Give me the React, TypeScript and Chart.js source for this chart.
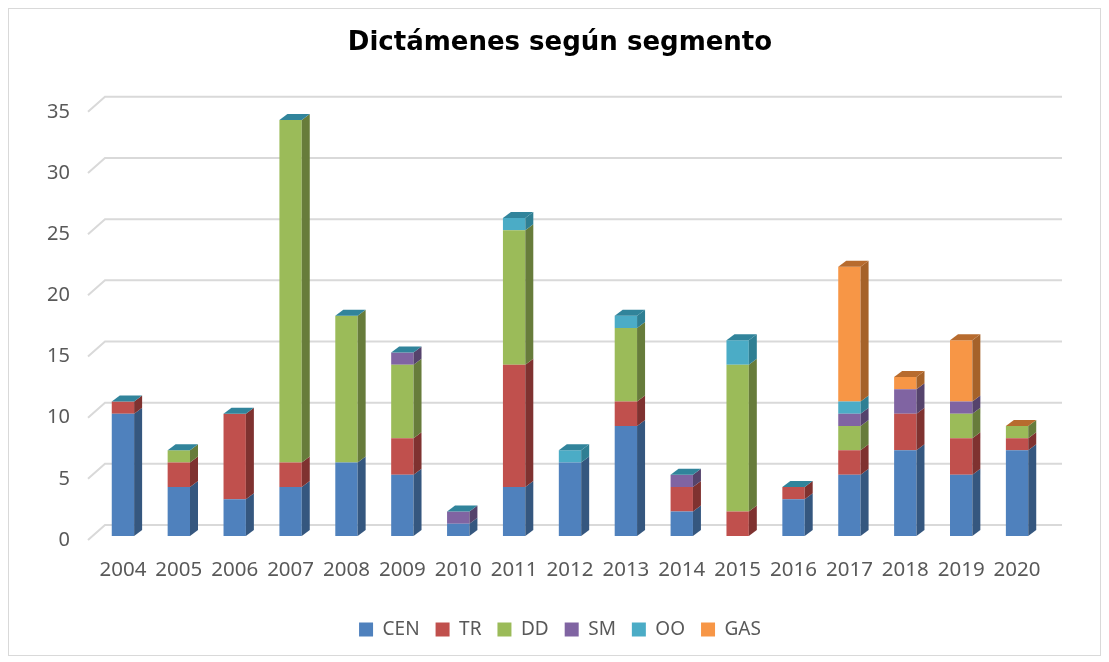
import React, { useEffect, useRef } from "react";
import { Chart, registerables } from "chart.js";

Chart.register(...registerables);

const years = ["2004","2005","2006","2007","2008","2009","2010","2011","2012","2013","2014","2015","2016","2017","2018","2019","2020"];
const CEN = [10, 4, 3, 4, 6, 5, 1, 4, 6, 9, 2, 0, 3, 5, 7, 5, 7];
const TR  = [1, 2, 7, 2, 0, 3, 0, 10, 0, 2, 2, 2, 1, 2, 3, 3, 1];
const DD  = [0, 1, 0, 28, 12, 6, 0, 11, 0, 6, 0, 12, 0, 2, 0, 2, 1];
const SM  = [0, 0, 0, 0, 0, 1, 1, 0, 0, 0, 1, 0, 0, 1, 2, 1, 0];
const OO  = [0, 0, 0, 0, 0, 0, 0, 1, 1, 1, 0, 2, 0, 1, 0, 0, 0];
const GAS = [null, null, null, null, null, null, null, null, null, null, null, null, null, 11, 1, 5, 0];

const seriesNames = ["CEN", "TR", "DD", "SM", "OO", "GAS"];
const frontColors = ["#4F81BD", "#C0504D", "#9BBB59", "#8064A2", "#4BACC6", "#F79646"];
const sideColors = ["#35577F", "#7F3230", "#677C3B", "#55436C", "#2F7F93", "#A5622A"];
const topColors = ["#3E6797", "#9A403D", "#7C9647", "#664F82", "#31849B", "#B76B2E"];

const D = 8;
const DY = 6;
const GDX = 17;
const GDY = 11;

const depthPlugin = {
  id: "depth3d",
  beforeDatasetsDraw(chart: any) {
    const { ctx, chartArea, scales } = chart;
    const y = scales.y;
    ctx.save();
    ctx.strokeStyle = "#d9d9d9";
    ctx.lineWidth = 2;
    y.ticks.forEach((t: any) => {
      const py = y.getPixelForValue(t.value);
      ctx.beginPath();
      ctx.moveTo(chartArea.left - 7, py + 4);
      ctx.lineTo(chartArea.left - 7 + GDX, py - GDY);
      ctx.lineTo(chartArea.right + GDX, py - GDY);
      ctx.stroke();
    });
    ctx.restore();
  },
  afterDatasetsDraw(chart: any) {
    const { ctx } = chart;
    const n = chart.data.labels.length;
    ctx.save();
    chart.data.datasets.forEach((ds: any, i: number) => {
      const meta = chart.getDatasetMeta(i);
      meta.data.forEach((el: any, j: number) => {
        if (ds.data[j] === null || ds.data[j] === undefined) return;
        const p = el.getProps(["x", "y", "base", "width"], true);
        if (Math.abs(p.base - p.y) < 0.5) return;
        const xr = p.x + p.width / 2;
        ctx.fillStyle = sideColors[i];
        ctx.beginPath();
        ctx.moveTo(xr, p.y);
        ctx.lineTo(xr + D, p.y - DY);
        ctx.lineTo(xr + D, p.base - DY);
        ctx.lineTo(xr, p.base);
        ctx.closePath();
        ctx.fill();
      });
    });
    for (let j = 0; j < n; j++) {
      let last = -1;
      chart.data.datasets.forEach((ds: any, i: number) => {
        if (ds.data[j] !== null && ds.data[j] !== undefined) last = i;
      });
      if (last < 0) continue;
      const el = chart.getDatasetMeta(last).data[j];
      const p = el.getProps(["x", "y", "base", "width"], true);
      const xl = p.x - p.width / 2;
      const xr = p.x + p.width / 2;
      ctx.fillStyle = topColors[last];
      ctx.beginPath();
      ctx.moveTo(xl, p.y);
      ctx.lineTo(xl + D, p.y - DY);
      ctx.lineTo(xr + D, p.y - DY);
      ctx.lineTo(xr, p.y);
      ctx.closePath();
      ctx.fill();
    }
    ctx.restore();
  },
};

export default function App() {
  const ref = useRef<HTMLCanvasElement>(null);
  useEffect(() => {
    if (!ref.current) return;
    const values = [CEN, TR, DD, SM, OO, GAS];
    const chart = new Chart(ref.current, {
      type: "bar",
      data: {
        labels: years,
        datasets: seriesNames.map((name, i) => ({
          label: name,
          data: values[i],
          backgroundColor: frontColors[i],
          borderWidth: 0,
          categoryPercentage: 1,
          barPercentage: 0.4,
        })),
      },
      options: {
        animation: false,
        responsive: true,
        maintainAspectRatio: false,
        layout: { padding: { left: 11, right: 0, top: 0, bottom: 6 } },
        plugins: {
          title: {
            display: true,
            text: "Dictámenes según segmento",
            color: "#000000",
            font: { family: "DejaVu Sans", size: 26, weight: "bold" },
            padding: { top: 19, bottom: 48.6 },
          },
          legend: {
            position: "bottom",
            labels: {
              boxWidth: 14,
              boxHeight: 14,
              padding: 16,
              color: "#595959",
              font: { family: "Noto Sans", size: 19 },
            },
          },
          tooltip: { enabled: false },
        },
        scales: {
          x: {
            stacked: true,
            grid: { display: false, drawTicks: false },
            border: { display: false },
            ticks: {
              color: "#595959",
              font: { family: "Noto Sans", size: 20.5 },
              padding: 22,
              maxRotation: 0,
            },
            afterFit: (s: any) => { s.height = 68; },
          },
          y: {
            stacked: true,
            min: 0,
            max: 35,
            grid: { display: false, drawTicks: false },
            border: { display: false },
            ticks: {
              stepSize: 5,
              color: "#595959",
              font: { family: "Noto Sans", size: 20 },
              padding: 25,
              labelOffset: 4,
            },
            afterFit: (s: any) => { s.width = 75; },
          },
          yPad: {
            type: "linear",
            position: "right",
            display: true,
            grid: { display: false, drawTicks: false },
            border: { display: false },
            ticks: { display: false },
            afterFit: (s: any) => { s.width = 55; },
          },
        },
      },
      plugins: [depthPlugin],
    });
    return () => chart.destroy();
  }, []);
  return (
    <div
      style={{
        width: 1093,
        height: 648,
        border: "1px solid #d9d9d9",
        boxSizing: "border-box",
        position: "relative",
        background: "#ffffff",
      }}
    >
      <canvas ref={ref} />
    </div>
  );
}
